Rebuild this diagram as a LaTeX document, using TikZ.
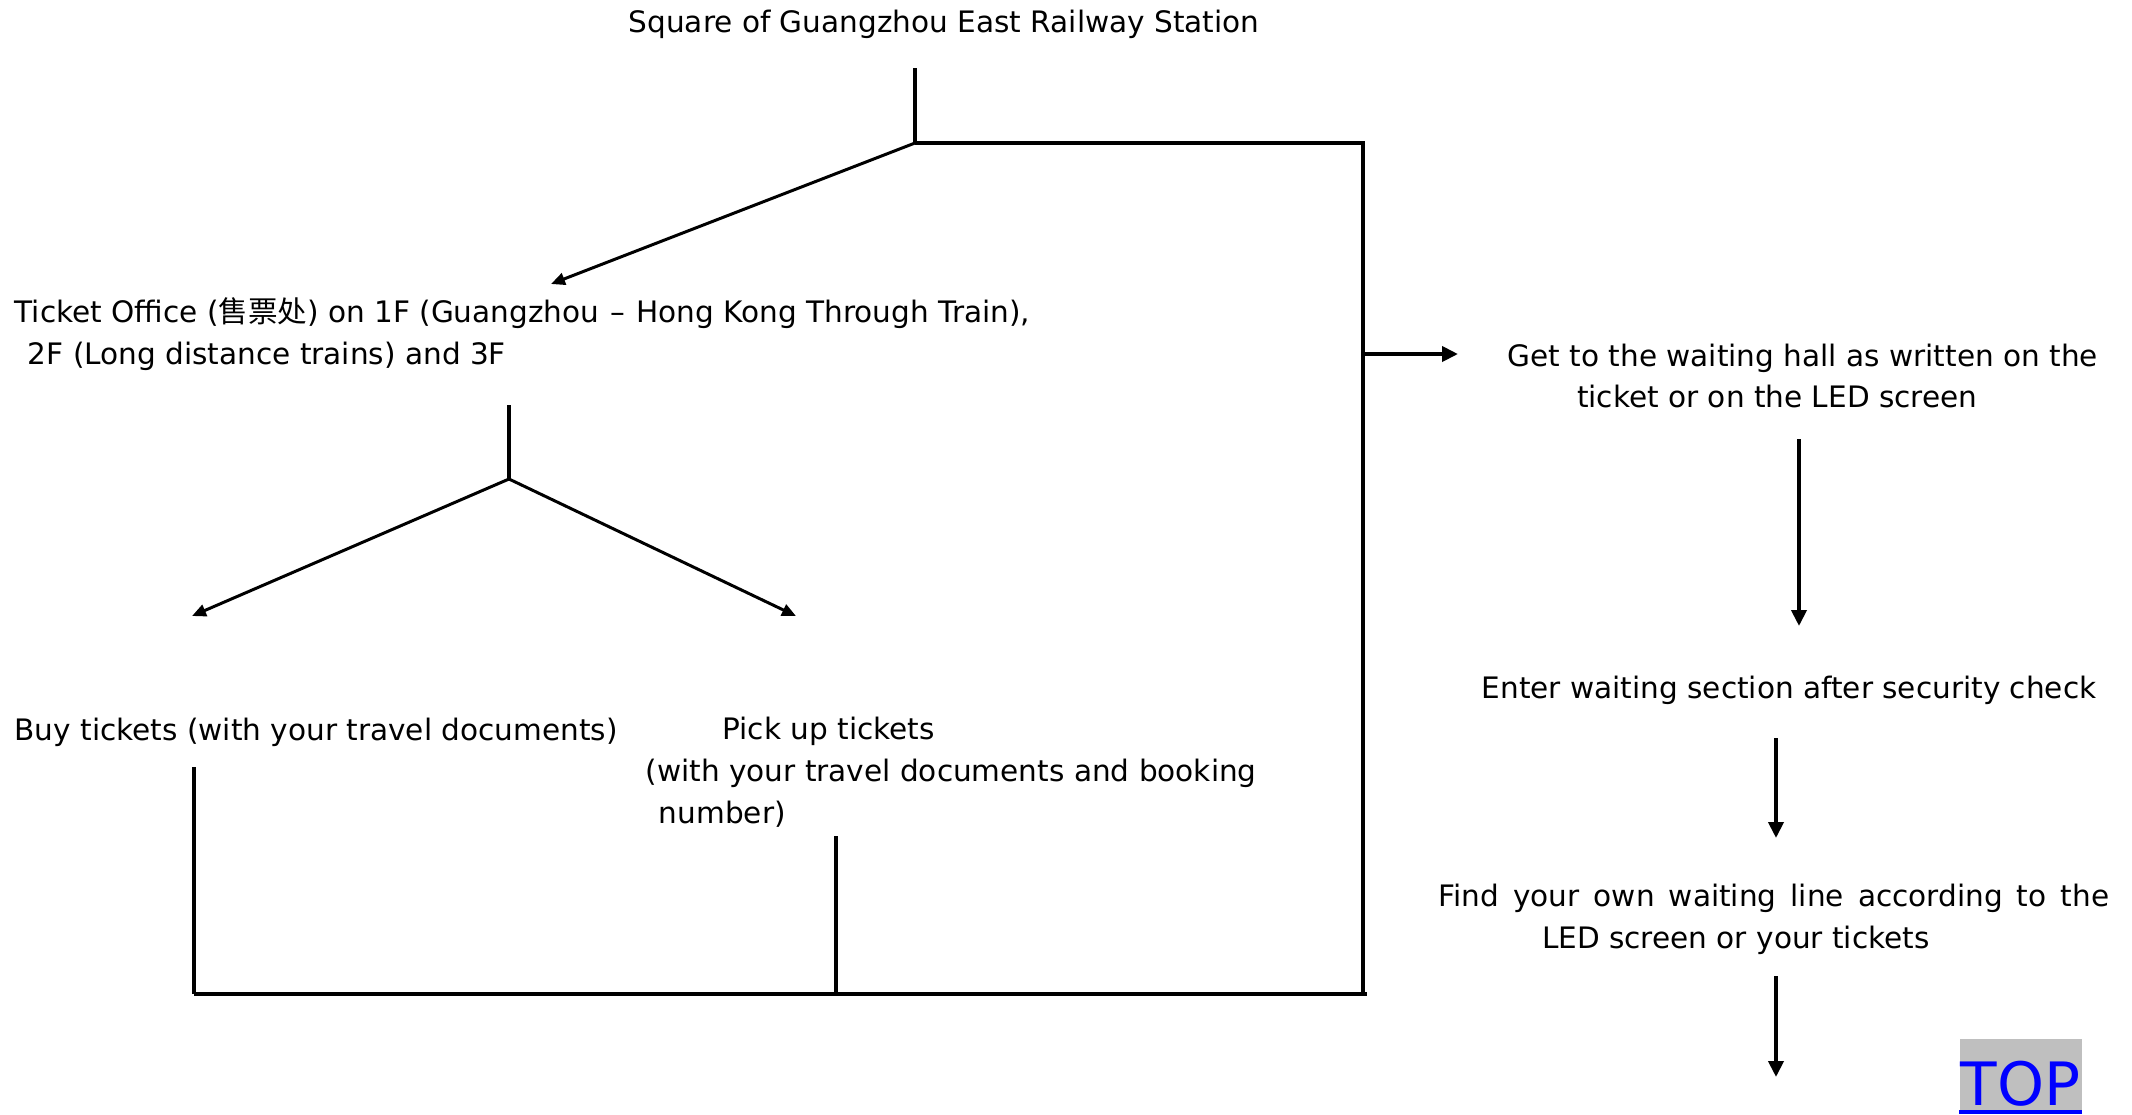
\documentclass[tikz,border=0pt]{standalone}
\usepackage{fontspec}
\setmainfont{DejaVu Sans}
\newfontfamily\cjk{Noto Sans CJK SC}
\usetikzlibrary{arrows.meta}

\begin{document}
\begin{tikzpicture}[x=0.01cm,y=-0.01cm,
    txt/.style={inner sep=0pt,align=left,font=\fontsize{8.4}{11.9}\selectfont},
    stem/.style={line width=1.2pt},
    wire/.style={line width=0.9pt},
    arr/.style={line width=1.1pt,-{Triangle[length=0.16cm,width=0.15cm]}},
    slant/.style={line width=0.85pt,-{Triangle[length=0.14cm,width=0.12cm]}},
    topbox/.style={fill=gray!50,text=blue,inner sep=0pt,minimum width=1.22cm,
      text height=0.66cm,text depth=0.08cm,font=\fontsize{17}{17}\selectfont}]
  \useasboundingbox (0,0) rectangle (2132,1114);

  % left branch
  \node[txt,anchor=base] (square) at (944,32) {Square of Guangzhou East Railway Station};
  \node[txt,anchor=west] (office) at (14,334)
    {Ticket Office ({\cjk 售票处}) on 1F (Guangzhou\hspace{0.06em} --\hspace{0.06em} Hong Kong Through Train),\\
     \hspace*{0.45em}2F (Long distance trains) and 3F};
  \node[txt,anchor=west] (buy) at (14,732) {Buy tickets (with your travel documents)};
  \node[txt,anchor=west] (pick) at (645,772)
    {\hspace*{2.6em}Pick up tickets\\
     (with your travel documents and booking\\
     \hspace*{0.45em}number)};

  \coordinate (s0) at (915,68);
  \coordinate (s1) at (915,143);
  \coordinate (s2) at (1363,143);
  \coordinate (s3) at (1363,994);
  \coordinate (o0) at (509,405);
  \coordinate (o1) at (509,479);
  \coordinate (b0) at (194,767);
  \coordinate (b1) at (194,994);
  \coordinate (p0) at (836,836);
  \coordinate (p1) at (836,994);

  \draw[stem] (s0) -- (s1);
  \draw[wire] (s1) -- (s2) -- (s3);
  \draw[slant] (s1) -- (551,284);
  \draw[stem] (o0) -- (o1);
  \draw[slant] (o1) -- (192,616);
  \draw[slant] (o1) -- (796,616);
  \draw[wire] (b0) -- (b1);
  \draw[wire] (p0) -- (p1);
  \draw[wire] (b1) -- (1367,994);

  % right branch
  \node[txt,anchor=west] (hall) at (1507,376)
    {Get to the waiting hall as written on the\\
     \hspace*{2.35em}ticket or on the LED screen};
  \node[txt,anchor=west] (enter) at (1481,690) {Enter waiting section after security check};
  \node[txt,anchor=west] (line) at (1438,919)
    {\makebox[6.7cm][s]{Find your own waiting line according to the}\\
     \hspace*{3.5em}LED screen or your tickets};

  \coordinate (h0) at (1363,354);
  \draw[arr] (h0) -- (1458,354);
  \draw[arr] (1799,439) -- (1799,626);
  \draw[arr] (1776,738) -- (1776,838);
  \draw[arr] (1776,976) -- (1776,1077);

  \node[topbox,anchor=south west] (top) at (1959,1114) {TOP};
  \draw[blue,line width=1pt] ([yshift=0.6pt]top.south west) -- ([yshift=0.6pt]top.south east);
\end{tikzpicture}
\end{document}
